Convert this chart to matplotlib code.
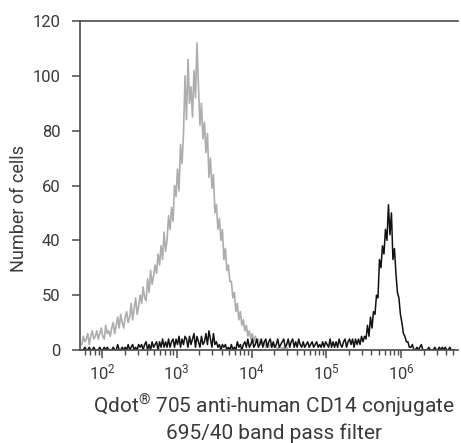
import numpy as np
import matplotlib
matplotlib.use("Agg")
import matplotlib.pyplot as plt
from matplotlib.ticker import LogLocator, FixedLocator, FixedFormatter

# Histogram channels: log10 position of first channel and channel width (decades)
log_start = 1.73
log_step = 0.02

# Control (gray), counts per channel
gray_counts = [
    2, 5, 3, 4, 6, 2, 5, 7, 4, 5,
    7, 4, 6, 8, 5, 4, 9, 6, 7, 5,
    8, 10, 6, 9, 12, 8, 13, 10, 8, 12,
    14, 10, 12, 17, 11, 15, 19, 13, 16, 20,
    17, 23, 19, 18, 26, 21, 29, 24, 27, 31,
    28, 35, 31, 38, 33, 43, 36, 40, 49, 44,
    52, 47, 60, 56, 66, 58, 75, 68, 79, 100,
    84, 106, 90, 96, 85, 102, 92, 112, 96, 82,
    90, 77, 83, 72, 79, 63, 70, 59, 64, 50,
    53, 44, 48, 40, 44, 33, 37, 29, 31, 25,
    25, 19, 21, 14, 17, 11, 14, 9, 11, 7,
    9, 5, 7, 4, 6, 3, 5, 3, 4, 2,
    3, 2, 3, 1, 2, 1, 2, 1, 2, 1,
    1, 0, 1, 1, 0, 1, 0, 1, 0, 0,
    0, 0, 0, 0,
]

# Qdot 705 anti-human CD14 stained (black), counts per channel
black_counts = [
    0, 0, 1, 0, 0, 1, 0, 0, 1, 0,
    0, 0, 1, 0, 0, 1, 0, 1, 0, 0,
    0, 1, 0, 0, 2, 0, 0, 1, 0, 1,
    0, 2, 0, 1, 2, 0, 1, 0, 2, 1,
    2, 0, 2, 3, 0, 2, 0, 3, 1, 2,
    3, 0, 3, 1, 4, 1, 3, 1, 4, 1,
    3, 4, 1, 4, 2, 5, 1, 4, 2, 5,
    4, 1, 5, 2, 4, 6, 1, 5, 3, 1,
    5, 2, 3, 6, 2, 7, 4, 1, 6, 2,
    3, 1, 2, 0, 2, 1, 2, 0, 1, 0,
    2, 0, 1, 0, 3, 1, 2, 0, 2, 3,
    1, 4, 1, 2, 4, 1, 2, 4, 1, 2,
    4, 1, 3, 4, 1, 3, 4, 1, 3, 1,
    2, 4, 1, 2, 3, 4, 1, 2, 4, 1,
    3, 4, 1, 3, 1, 4, 2, 1, 3, 1,
    2, 3, 1, 2, 3, 1, 2, 3, 1, 2,
    1, 3, 1, 3, 2, 1, 4, 1, 3, 1,
    3, 1, 4, 2, 1, 3, 4, 1, 3, 4,
    2, 4, 1, 4, 2, 4, 2, 5, 3, 5,
    4, 9, 5, 12, 8, 14, 13, 20, 19, 33,
    30, 38, 35, 44, 40, 53, 42, 50, 33, 37,
    28, 21, 19, 13, 10, 6, 5, 3, 3, 1,
    1, 2, 0, 0, 1, 0, 1, 2, 0, 0,
    0, 0, 1, 0, 0, 0, 1, 0, 0, 1,
    0, 1, 0, 1, 0, 0, 1, 0, 0, 0,
]

y_ticks = [0, 20, 40, 60, 80, 100, 120]
y_tick_labels = ["0", "50", "40", "60", "80", "100", "120"]
x_major = [1e2, 1e3, 1e4, 1e5, 1e6]
x_tick_labels = ["$10^{2}$", "$10^{3}$", "$10^{4}$", "$10^{5}$", "$10^{6}$"]
y_label = "Number of cells"
x_label = "Qdot$^{®}$ 705 anti-human CD14 conjugate\n695/40 band pass filter"

text_color = "#3a3a3a"
axis_color = "#4a4a4a"
plt.rcParams["font.family"] = ["Roboto", "DejaVu Sans"]
plt.rcParams["mathtext.fontset"] = "custom"
plt.rcParams["mathtext.rm"] = "Roboto"
plt.rcParams["mathtext.it"] = "Roboto"
plt.rcParams["mathtext.default"] = "regular"

fig = plt.figure(figsize=(4.61, 4.43), dpi=100)
ax = fig.add_axes([80 / 461, 1 - 350 / 443, 378 / 461, 329 / 443])

gray_x = 10 ** (log_start + log_step * np.arange(len(gray_counts)))
black_x = 10 ** (log_start + log_step * np.arange(len(black_counts)))

ax.plot(gray_x, gray_counts, color="#adadad", linewidth=1.2)
ax.plot(black_x, black_counts, color="#111111", linewidth=1.1)

ax.set_xscale("log")
ax.set_xlim(10 ** 1.706, 10 ** 6.76)
ax.set_ylim(0, 120)

ax.xaxis.set_major_locator(FixedLocator(x_major))
ax.xaxis.set_major_formatter(FixedFormatter(x_tick_labels))
ax.xaxis.set_minor_locator(LogLocator(base=10, subs=np.arange(2, 10), numticks=20))
ax.set_yticks(y_ticks)
ax.set_yticklabels(y_tick_labels)

for s in ["left", "bottom", "top"]:
    ax.spines[s].set_color(axis_color)
    ax.spines[s].set_linewidth(1.2)
ax.spines["right"].set_visible(False)

ax.tick_params(axis="both", which="major", direction="out", length=6, width=1.1,
               color=axis_color, labelcolor=text_color, labelsize=12)
ax.tick_params(axis="x", which="minor", direction="out", length=3.5, width=1.0,
               color=axis_color)
ax.tick_params(axis="y", pad=8)
ax.tick_params(axis="x", pad=3)

fig.text(19 / 461, 1 - 208 / 443, y_label, fontsize=13, color=text_color,
         rotation=90, ha="center", va="center")
fig.text(274 / 461, 1 - 418 / 443, x_label, fontsize=15, color=text_color,
         ha="center", va="center", linespacing=1.25, multialignment="center")

fig.savefig("out.png", dpi=100, facecolor="white")
